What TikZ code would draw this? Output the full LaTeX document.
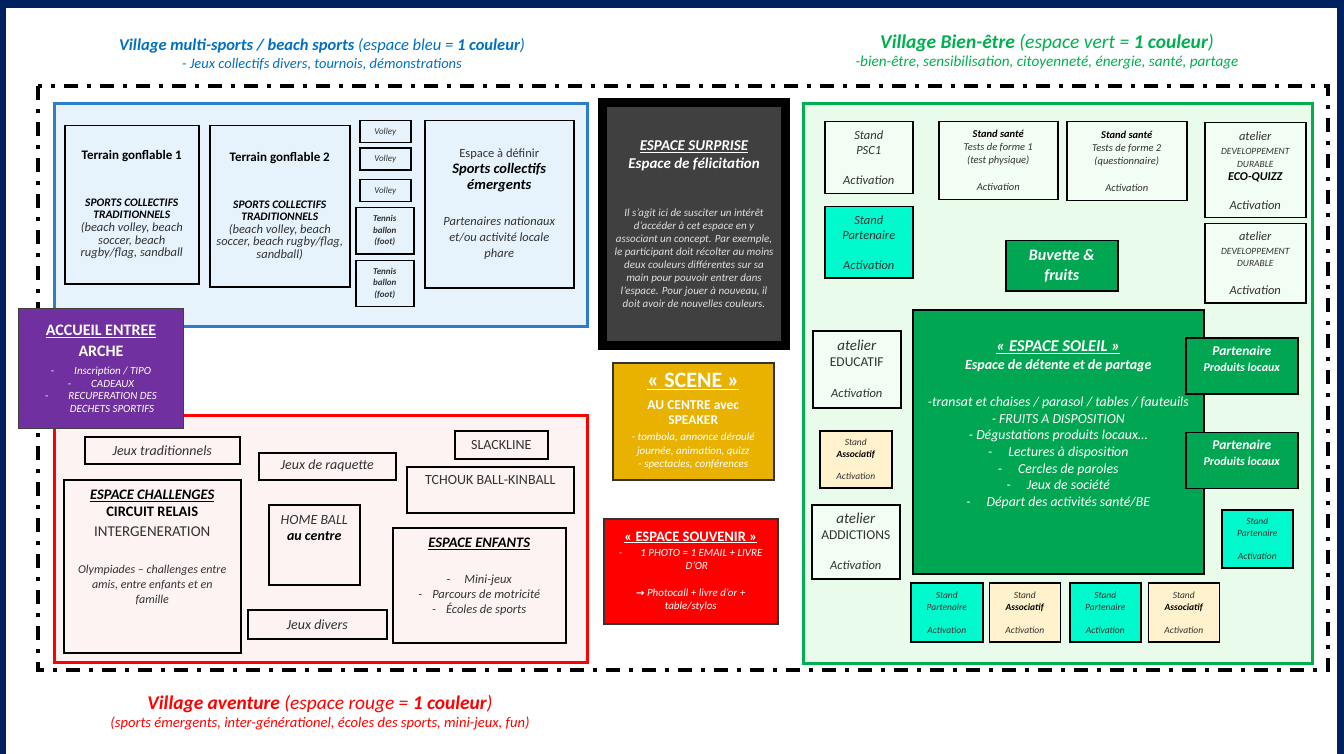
\documentclass[tikz,border=0pt]{standalone}
\usepackage{fontspec}
\setmainfont{Carlito}
\newfontfamily\arrowfont{DejaVu Sans}
\usetikzlibrary{positioning}

\definecolor{slideNavy}{RGB}{0,32,96}
\definecolor{bleuTitre}{RGB}{0,112,192}
\definecolor{bleuTrait}{RGB}{46,125,200}
\definecolor{bleuFond}{RGB}{231,243,252}
\definecolor{vertTitre}{RGB}{0,176,80}
\definecolor{vertFond}{RGB}{233,251,235}
\definecolor{vertCase}{RGB}{242,253,243}
\definecolor{vertFonce}{RGB}{0,166,81}
\definecolor{turquoiseStand}{RGB}{0,250,205}
\definecolor{beigeStand}{RGB}{255,242,204}
\definecolor{rougeVif}{RGB}{255,0,0}
\definecolor{rougeFond}{RGB}{253,243,243}
\definecolor{violetAccueil}{RGB}{112,48,160}
\definecolor{orScene}{RGB}{234,178,0}
\definecolor{grisSurprise}{RGB}{64,64,64}
\definecolor{encre}{RGB}{50,50,50}

\newcommand{\fs}[2]{\fontsize{#1}{#2}\selectfont}

\tikzset{
  zone/.style = {anchor=north west, line width=3pt, inner sep=0pt},
  box/.style = {draw=black, line width=1.5pt, anchor=north west, align=center,
                inner sep=0pt, text=encre},
  titre/.style = {align=center, inner sep=0pt},
  volley/.style = {minimum width=51, minimum height=22, font=\fs{9}{11}\itshape},
  tennis/.style = {minimum width=58, minimum height=46, font=\fs{9}{11.5}\bfseries\itshape},
  jeu/.style = {font=\fs{14}{16}\itshape},
  caseVerte/.style = {fill=vertCase},
  partenaire/.style = {fill=turquoiseStand, font=\fs{9.5}{12}\itshape,
                       minimum width=71, minimum height=58},
  associatif/.style = {fill=beigeStand, font=\fs{9.5}{12}\itshape,
                       minimum width=71, minimum height=58},
  local/.style = {fill=vertFonce, text=white, font=\fs{12}{16}\bfseries\itshape,
                  minimum width=112, minimum height=56},
}

\begin{document}
\begin{tikzpicture}[x=1pt, y=-1pt]
  \useasboundingbox (0,0) rectangle (1344,754);
  % cadre du diaporama
  \fill[slideNavy] (0,0) rectangle (1344,754);
  \fill[white] (6,8) rectangle (1337,754);

  % titres des villages
  \node[titre, text=bleuTitre, font=\fs{16.5}{20}\itshape] (titreBleu) at (322,46)
    {\textbf{Village multi-sports / beach sports} (espace bleu = \textbf{1 couleur})};
  \node[titre, text=bleuTitre, font=\fs{14.5}{17}\itshape] (sousBleu) at (322,64)
    {- Jeux collectifs divers, tournois, démonstrations};
  \node[titre, text=vertTitre, font=\fs{19.5}{22}\itshape] (titreVert) at (1047,43)
    {\textbf{Village Bien-être} (espace vert = \textbf{1 couleur})};
  \node[titre, text=vertTitre, font=\fs{15.2}{17}\itshape] (sousVert) at (1047,63)
    {-bien-être, sensibilisation, citoyenneté, énergie, santé, partage};
  \node[titre, text=rougeVif, font=\fs{19.4}{22}\itshape] (titreRouge) at (320,704)
    {\textbf{Village aventure} (espace rouge = \textbf{1 couleur})};
  \node[titre, text=rougeVif, font=\fs{14.6}{17}\itshape] (sousRouge) at (320,723)
    {(sports émergents, inter-générationel, écoles des sports, mini-jeux, fun)};

  % enceinte
  \draw[line width=4pt, dash pattern=on 14pt off 9pt on 4pt off 9pt]
    (38,86) rectangle (1328,670);

  % les trois villages
  \node[zone, draw=bleuTrait, fill=bleuFond, minimum width=533, minimum height=223]
    (villageBleu) at (53,102) {};
  \node[zone, draw=rougeVif, fill=rougeFond, minimum width=533, minimum height=247]
    (villageRouge) at (53,414) {};
  \node[zone, draw=vertTitre, fill=vertFond, minimum width=509, minimum height=560]
    (villageVert) at (802,102) {};

  % village bleu
  \node[box, minimum width=134, minimum height=158, font=\fs{12.5}{12.6}\itshape]
    (gonflableA) at (64,125)
    {{\upshape\bfseries\color{black}\fs{13}{12.6}Terrain gonflable 1}\\[34pt]
     {\bfseries\color{black}\fs{11.5}{12.6}SPORTS COLLECTIFS}\\
     {\bfseries\color{black}\fs{11.5}{12.6}TRADITIONNELS}\\
     (beach volley, beach\\ soccer, beach\\ rugby/flag, sandball};
  \node[box, minimum width=140, minimum height=161, font=\fs{12.5}{12.6}\itshape]
    (gonflableB) at (209,125)
    {{\upshape\bfseries\color{black}\fs{13}{12.6}Terrain gonflable 2}\\[34pt]
     {\bfseries\color{black}\fs{11.5}{12.6}SPORTS COLLECTIFS}\\
     {\bfseries\color{black}\fs{11.5}{12.6}TRADITIONNELS}\\
     (beach volley, beach\\ soccer, beach rugby/flag,\\ sandball)};
  \node[box, volley] (volleyA) at (359,120) {Volley};
  \node[box, volley, below=4pt of volleyA.south west, anchor=north west] (volleyB) {Volley};
  \node[box, volley, below=8pt of volleyB.south west, anchor=north west] (volleyC) {Volley};
  \node[box, tennis] (tennisA) at (355,207) {Tennis\\ ballon\\ (foot)};
  \node[box, tennis, below=5pt of tennisA.south west, anchor=north west] (tennisB) {Tennis\\ ballon\\ (foot)};
  \node[box, minimum width=149, minimum height=167, font=\fs{12.5}{16.3}] (aDefinir) at (424,120)
    {Espace à définir\\
     {\bfseries\itshape\color{black}\fs{14.5}{16}Sports collectifs}\\
     {\bfseries\itshape\color{black}\fs{14.5}{16}émergents}\\[19pt]
     {\itshape Partenaires nationaux}\\ {\itshape et/ou activité locale}\\ {\itshape phare}};

  % espace surprise
  \node[box, line width=9pt, fill=grisSurprise, text=black!12, minimum width=183,
        minimum height=243, font=\fs{11}{13}\itshape] (surprise) at (598,98)
    {{\bfseries\color{white}\fs{15}{18}\underline{ESPACE SURPRISE}}\\[5pt]
     {\bfseries\color{white}\fs{15}{18}Espace de félicitation}\\[35pt]
     Il s’agit ici de susciter un intérêt\\ d’accéder à cet espace en y\\
     associant un concept. Par exemple,\\ le participant doit récolter au moins\\
     deux couleurs différentes sur sa\\ main pour pouvoir entrer dans\\
     l’espace. Pour jouer à nouveau, il\\ doit avoir de nouvelles couleurs.};

  % accueil
  \node[box, draw=black!75, line width=1pt, fill=violetAccueil, text=white,
        minimum width=165, minimum height=120, font=\fs{11}{12.5}\itshape] (accueil) at (18,308)
    {{\upshape\bfseries\fs{16}{20}\underline{ACCUEIL ENTREE}}\\[7.5pt]
     {\upshape\bfseries\fs{16}{20}ARCHE}\\[5.5pt]
     -\hspace{20pt}Inscription / TIPO\\
     -\hspace{20pt}CADEAUX\\
     -\hspace{20pt}RECUPERATION DES\\
     \hspace{22pt}DECHETS SPORTIFS};

  % scene et souvenir
  \node[box, draw=black!80, fill=orScene, text=white, minimum width=161, minimum height=117,
        font=\fs{11}{13.5}\itshape] (scene) at (612,362)
    {{\upshape\bfseries\fs{22}{24}\underline{« SCENE »}}\\[8.5pt]
     {\upshape\bfseries\fs{13.5}{15}AU CENTRE avec}\\[1.5pt]
     {\upshape\bfseries\fs{13.5}{15}SPEAKER}\\[2.5pt]
     - tombola, annonce déroulé\\ journée, animation, quizz\\ - spectacles, conférences};
  \node[box, draw=black!80, fill=rougeVif, text=white, minimum width=174, minimum height=105,
        font=\fs{11}{13}\itshape] (souvenir) at (603,518)
    {{\upshape\bfseries\fs{14.5}{16}\underline{« ESPACE SOUVENIR »}}\\[2pt]
     -\hspace{18pt}1 PHOTO = 1 EMAIL + LIVRE\\
     \hspace{12pt}D’OR\\[14pt]
     {\arrowfont\bfseries\fs{10}{13}→} Photocall + livre d’or +\\ table/stylos};

  % village rouge
  \node[box, jeu, minimum width=155, minimum height=27] (jeuxTrad) at (84,436) {Jeux traditionnels};
  \node[box, jeu, minimum width=137, minimum height=27] (raquette) at (258,452) {Jeux de raquette};
  \node[box, font=\fs{14}{16}, minimum width=93, minimum height=28]
    (slackline) at (454,430) {SLACKLINE};
  \node[box, font=\fs{14}{15}, minimum width=167, minimum height=46] (tchouk) at (406,466)
    {TCHOUK BALL-KINBALL\\[5pt]\mbox{}};
  \node[box, minimum width=177, minimum height=173, font=\fs{12}{15}\itshape] (challenges) at (63,479)
    {{\bfseries\color{black}\fs{14.5}{15}\underline{ESPACE CHALLENGES}}\\[2pt]
     {\upshape\bfseries\color{black}\fs{14.5}{15}CIRCUIT RELAIS}\\[5pt]
     {\upshape\fs{15}{15}INTERGENERATION}\\[22pt]
     Olympiades – challenges entre\\ amis, entre enfants et en\\ famille\\[24pt]\mbox{}};
  \node[box, minimum width=91, minimum height=80, font=\fs{14}{16}\itshape] (homeBall) at (268,504)
    {HOME BALL\\ {\bfseries\color{black}au centre}\\[18pt]\mbox{}};
  \node[box, minimum width=173, minimum height=115, font=\fs{12.5}{15}\itshape] (enfants) at (392,527)
    {{\bfseries\color{black}\fs{14.5}{15}\underline{ESPACE ENFANTS}}\\[21pt]
     -\hspace{14pt}Mini-jeux\\ -\hspace{10pt}Parcours de motricité\\
     -\hspace{10pt}Écoles de sports\\[4pt]\mbox{}};
  \node[box, jeu, minimum width=139, minimum height=29] (jeuxDivers) at (247,609) {Jeux divers};

  % village vert
  \node[box, caseVerte, minimum width=88, minimum height=72, font=\fs{12.5}{15}\itshape]
    (psc) at (824,121) {Stand\\ PSC1\\[15pt] Activation};
  \node[box, caseVerte, minimum width=119, minimum height=78, font=\fs{10.5}{13}\itshape]
    (santeA) at (938,121)
    {{\bfseries\color{black}Stand santé}\\ Tests de forme 1\\ (test physique)\\[14pt] Activation};
  \node[box, caseVerte, minimum width=120, minimum height=79, font=\fs{10.5}{13}\itshape]
    (santeB) at (1066,121)
    {{\bfseries\color{black}Stand santé}\\ Tests de forme 2\\ (questionnaire)\\[14pt] Activation};
  \node[box, caseVerte, minimum width=101, minimum height=95, font=\fs{12.5}{13}\itshape]
    (ecoQuizz) at (1204,122)
    {atelier\\[1pt] {\fs{9.5}{13}DEVELOPPEMENT}\\ {\fs{9.5}{13}DURABLE}\\
     {\bfseries\color{black}\fs{12}{13}ECO-QUIZZ}\\[16pt] Activation};
  \node[box, caseVerte, minimum width=101, minimum height=79, font=\fs{12.5}{12.5}\itshape]
    (durable) at (1204,223)
    {atelier\\[1pt] {\fs{9.5}{12.5}DEVELOPPEMENT}\\ {\fs{9.5}{12.5}DURABLE}\\[15pt] Activation};
  \node[box, fill=turquoiseStand, minimum width=88, minimum height=71, font=\fs{12.5}{15}\itshape]
    (partenaireA) at (824,206) {Stand\\ Partenaire\\[15pt] Activation};
  \node[box, fill=vertFonce, text=white, minimum width=112, minimum height=50,
        font=\fs{16}{20}\bfseries\itshape] (buvette) at (1005,240) {Buvette \&\\ fruits};
  \node[box, fill=vertFonce, text=white, minimum width=291, minimum height=264,
        font=\fs{13.8}{16.6}\itshape] (soleil) at (912,309)
    {{\bfseries\fs{16.5}{18}\underline{« ESPACE SOLEIL »}}\\[1.5pt]
     {\bfseries\fs{14}{16}Espace de détente et de partage}\\[20.5pt]
     -transat et chaises / parasol / tables / fauteuils\\
     - FRUITS A DISPOSITION\\
     - Dégustations produits locaux…\\
     -\hspace{16pt}Lectures à disposition\\
     -\hspace{16pt}Cercles de paroles\\
     -\hspace{16pt}Jeux de société\\
     -\hspace{16pt}Départ des activités santé/BE\\[20pt]\mbox{}};
  \node[box, caseVerte, minimum width=88, minimum height=77, font=\fs{12.5}{16}\itshape]
    (educatif) at (812,330)
    {{\fs{15}{16}atelier}\\ {\upshape\fs{13.5}{16}EDUCATIF}\\[15pt] Activation};
  \node[box, associatif, minimum width=72, minimum height=57] (associatifA) at (819,430)
    {Stand\\ {\bfseries\color{black}Associatif}\\[10pt] Activation};
  \node[box, caseVerte, minimum width=88, minimum height=74, font=\fs{12.5}{16}\itshape]
    (addictions) at (811,504)
    {{\fs{15}{16}atelier}\\ {\upshape\fs{13.5}{16}ADDICTIONS}\\[14pt] Activation};
  \node[box, local] (localA) at (1185,337)
    {{\fs{13.5}{16}Partenaire}\\ Produits locaux\\[-2pt]\mbox{}};
  \node[box, local, below=37pt of localA.south west, anchor=north west] (localB)
    {{\fs{13.5}{16}Partenaire}\\ Produits locaux\\[-2pt]\mbox{}};
  \node[box, partenaire] (partenaireB) at (1221,509) {Stand\\ Partenaire\\[11pt] Activation};
  \node[box, partenaire, minimum width=72, minimum height=59] (standP1) at (910,582)
    {Stand\\ Partenaire\\[11pt] Activation};
  \node[box, associatif, minimum height=59, right=5pt of standP1.north east, anchor=north west]
    (standA1) {Stand\\ {\bfseries\color{black}Associatif}\\[11pt] Activation};
  \node[box, partenaire, minimum height=59, right=8pt of standA1.north east, anchor=north west]
    (standP2) {Stand\\ Partenaire\\[11pt] Activation};
  \node[box, associatif, minimum height=59, right=6pt of standP2.north east, anchor=north west]
    (standA2) {Stand\\ {\bfseries\color{black}Associatif}\\[11pt] Activation};
\end{tikzpicture}
\end{document}
